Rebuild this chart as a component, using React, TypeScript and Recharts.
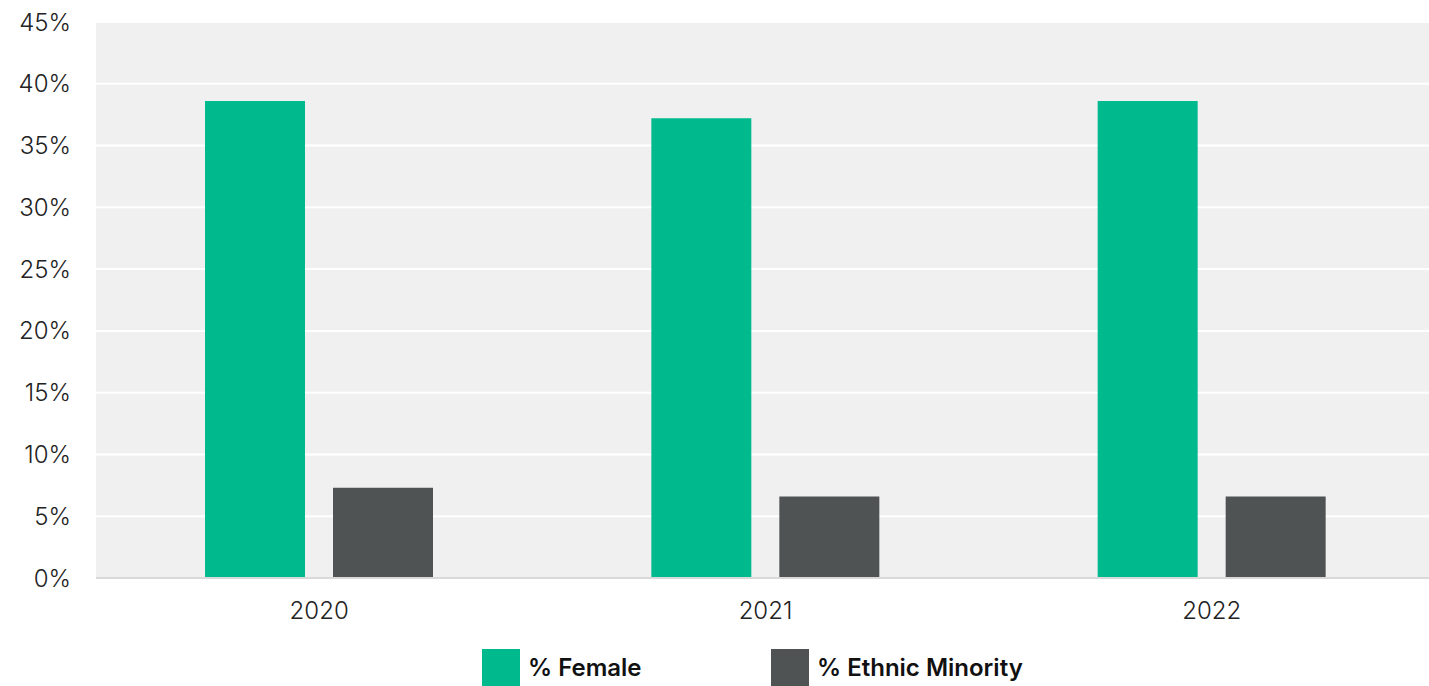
import React from 'react';
import { BarChart, Bar, XAxis, YAxis, CartesianGrid, Legend } from 'recharts';

const years = ['2020', '2021', '2022'];
const female = [38.6, 37.2, 38.6];
const ethnicMinority = [7.3, 6.6, 6.6];
const yTicks = [0, 5, 10, 15, 20, 25, 30, 35, 40, 45];

const GREEN = '#00B98C';
const GREY = '#505353';
const FONT = 'Inter, "Noto Sans", sans-serif';

const data = years.map((year, i) => ({
  year,
  female: female[i],
  ethnic: ethnicMinority[i],
}));

const legendItems = [
  { label: '% Female', color: GREEN },
  { label: '% Ethnic Minority', color: GREY },
];

const LegendContent = () => (
  <div style={{ display: 'flex', paddingLeft: 482, paddingTop: 21, fontFamily: FONT }}>
    {legendItems.map((item) => (
      <div key={item.label} style={{ display: 'flex', alignItems: 'center', width: 289 }}>
        <div style={{ width: 38, height: 37, background: item.color, marginRight: 8 }} />
        <span style={{ fontSize: 24, fontWeight: 600, color: '#111' }}>{item.label}</span>
      </div>
    ))}
  </div>
);

export default function App() {
  return (
    <div
      style={{
        position: 'absolute',
        top: 0,
        left: 0,
        width: 1429,
        height: 686,
        overflow: 'hidden',
        background: '#fff',
      }}
    >
      <BarChart
        width={1435}
        height={686}
        data={data}
        margin={{ top: 22, right: 0, left: 0, bottom: 0 }}
        barGap={28}
        barSize={100}
      >
        <CartesianGrid vertical={false} fill="#F0F0F0" stroke="#FFFFFF" strokeWidth={2} />
        <XAxis
          dataKey="year"
          height={50}
          tickSize={0}
          tickMargin={24}
          axisLine={{ stroke: '#D9D9D9', strokeWidth: 2 }}
          tick={{ fill: '#222', fontSize: 24, fontFamily: FONT, fontWeight: 300 }}
        />
        <YAxis
          width={96}
          domain={[0, 45]}
          ticks={yTicks}
          interval={0}
          tickFormatter={(v: number) => `${v}%`}
          axisLine={false}
          tickSize={0}
          tickMargin={25}
          tick={{ fill: '#222', fontSize: 24, fontFamily: FONT, fontWeight: 300 }}
        />
        <Legend verticalAlign="bottom" height={58} content={<LegendContent />} />
        <Bar dataKey="female" name="% Female" fill={GREEN} isAnimationActive={false} />
        <Bar dataKey="ethnic" name="% Ethnic Minority" fill={GREY} isAnimationActive={false} />
      </BarChart>
    </div>
  );
}
